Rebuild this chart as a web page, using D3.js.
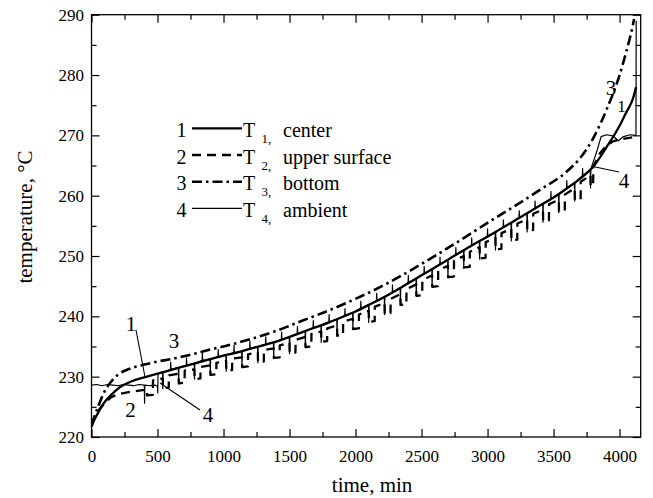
<!DOCTYPE html>
<html><head><meta charset="utf-8">
<script src="https://cdn.jsdelivr.net/npm/d3@7/dist/d3.min.js"></script>
<style>body{margin:0;background:#fff}svg{display:block}text{font-family:"Liberation Serif","Times New Roman",serif;fill:#000}</style>
</head><body>
<svg id="c" width="653" height="498"></svg>
<script>
// ---- data (time in min, temperature in °C) ----
const xMajorTicks = [0,500,1000,1500,2000,2500,3000,3500,4000];
const xMinorTicks = [250,750,1250,1750,2250,2750,3250,3750];
const yMajorTicks = [220,230,240,250,260,270,280,290];
const yMinorTicks = [225,235,245,255,265,275,285];
const seriesNames = ["center","upper surface","bottom","ambient"];

const T1 = [[0,221.7],[25,223.0],[50,224.0],[75,225.0],[100,225.8],[150,227.0],[200,228.0],[250,228.7],[300,229.2],[400,229.9],[500,230.5],[600,231.1],[700,231.7],[800,232.3],[900,232.9],[1000,233.5],[1100,234.0],[1200,234.6],[1300,235.2],[1400,235.8],[1500,236.6],[1600,237.4],[1700,238.2],[1800,239.0],[1900,239.9],[2000,240.8],[2100,241.9],[2200,243.0],[2300,244.2],[2400,245.5],[2500,246.8],[2600,248.1],[2700,249.4],[2800,250.7],[2900,252.0],[3000,253.2],[3100,254.5],[3200,255.8],[3300,257.1],[3400,258.4],[3500,259.7],[3600,261.2],[3700,262.8],[3800,264.8],[3900,268.0],[4000,271.6],[4050,273.8],[4100,276.0],[4125,278.0]];

const T2 = [[0,222.0],[30,223.5],[60,224.6],[100,225.6],[150,226.6],[200,227.1],[300,227.5],[400,227.8],
[420,227.9],[421,226.9],[465,227.0],[466,229.4],
[540,229.7],[541,228.1],[585,228.2],[586,230.2],
[660,230.5],[661,228.9],[705,229.0],[706,231.0],
[780,231.2],[781,229.6],[825,229.7],[826,231.6],
[900,231.9],[901,230.3],[945,230.4],[946,232.3],
[1020,232.6],[1021,231.0],[1065,231.1],[1066,233.0],
[1140,233.2],[1141,231.6],[1185,231.7],[1186,233.7],
[1260,234.0],[1261,232.4],[1305,232.5],[1306,234.4],
[1380,234.7],[1381,233.1],[1425,233.2],[1426,235.2],
[1500,235.6],[1501,233.9],[1545,234.0],[1546,236.1],
[1620,236.6],[1621,234.9],[1665,235.0],[1666,237.1],
[1740,237.5],[1741,235.8],[1785,235.9],[1786,238.0],
[1860,238.5],[1861,236.8],[1905,236.9],[1906,239.1],
[1980,239.6],[1981,237.9],[2025,238.0],[2026,240.3],
[2100,240.9],[2101,239.1],[2145,239.2],[2146,241.6],
[2220,242.2],[2221,240.4],[2265,240.5],[2266,242.9],
[2340,243.7],[2341,241.9],[2385,242.0],[2386,244.5],
[2460,245.3],[2461,243.4],[2505,243.5],[2506,246.0],
[2580,246.8],[2581,244.9],[2625,245.0],[2626,247.6],
[2700,248.4],[2701,246.5],[2745,246.6],[2746,249.2],
[2820,250.0],[2821,248.1],[2865,248.2],[2866,250.7],
[2940,251.5],[2941,249.6],[2985,249.7],[2986,252.3],
[3060,253.0],[3061,251.1],[3105,251.2],[3106,253.8],
[3180,254.5],[3181,252.6],[3225,252.7],[3226,255.4],
[3300,256.1],[3301,254.2],[3345,254.3],[3346,257.0],
[3420,257.7],[3421,255.8],[3465,255.9],[3466,258.6],
[3540,259.3],[3541,257.4],[3585,257.5],[3586,260.2],
[3660,261.2],[3661,259.3],[3705,259.4],[3706,262.3],
[3780,263.4],[3781,261.5],[3800,262.0],[3801,264.8],
[3850,267.0],[3900,268.3],[3950,269.0],[4000,269.3],[4050,269.5],[4100,269.7],[4120,270.0]];

const T3 = [[0,222.0],[50,225.0],[100,227.6],[150,229.2],[200,230.3],[300,231.4],[400,232.0],[500,232.5],[600,232.9],[700,233.4],[800,233.9],[900,234.5],[1000,235.0],[1200,236.2],[1400,237.6],[1600,239.3],[1800,241.0],[2000,242.9],[2200,245.0],[2400,247.4],[2600,250.0],[2800,252.7],[3000,255.5],[3200,258.2],[3400,261.0],[3600,264.0],[3700,266.2],[3800,269.5],[3900,274.2],[4000,280.0],[4050,283.8],[4100,288.2],[4110,289.3]];

const T4 = [[0,228.6],[40,228.7],[80,228.5],[120,228.7],[160,228.6],[200,228.5],[240,228.7],[280,228.6],[320,228.5],[360,228.7],[400,228.6],[402,225.6],[404,228.6],[440,228.5],[480,228.6],[500,228.4],[502,227.3],[504,230.5],
[538,230.7],[540,228.0],[542,230.7],[598,231.2],[600,232.4],[602,231.2],
[658,231.5],[660,228.8],[662,231.5],[718,231.9],[720,233.1],[722,231.9],
[778,232.2],[780,229.6],[782,232.2],[838,232.7],[840,233.9],[842,232.7],
[898,232.9],[900,230.2],[902,232.9],[958,233.3],[960,234.5],[962,233.3],
[1018,233.6],[1020,230.9],[1022,233.6],[1078,234.0],[1080,235.2],[1082,234.0],
[1138,234.2],[1140,231.5],[1142,234.2],[1198,234.7],[1200,235.9],[1202,234.7],
[1258,235.0],[1260,232.3],[1262,235.0],[1318,235.4],[1320,236.6],[1322,235.4],
[1378,235.7],[1380,233.0],[1382,235.7],[1438,236.2],[1440,237.4],[1442,236.2],
[1498,236.6],[1500,233.8],[1502,236.6],[1558,237.1],[1560,238.3],[1562,237.1],
[1618,237.6],[1620,234.8],[1622,237.6],[1678,238.1],[1680,239.3],[1682,238.1],
[1738,238.5],[1740,235.7],[1742,238.5],[1798,239.1],[1800,240.3],[1802,239.1],
[1858,239.5],[1860,236.7],[1862,239.5],[1918,240.1],[1920,241.3],[1922,240.1],
[1978,240.6],[1980,237.8],[1982,240.6],[2038,241.3],[2040,242.5],[2042,241.3],
[2098,241.9],[2100,239.0],[2102,241.9],[2158,242.6],[2160,243.8],[2162,242.6],
[2218,243.2],[2220,240.3],[2222,243.2],[2278,244.0],[2280,245.2],[2282,244.0],
[2338,244.7],[2340,241.8],[2342,244.7],[2398,245.6],[2400,246.8],[2402,245.6],
[2458,246.3],[2460,243.4],[2462,246.3],[2518,247.1],[2520,248.3],[2522,247.1],
[2578,247.8],[2580,244.9],[2582,247.8],[2638,248.6],[2640,249.8],[2642,248.6],
[2698,249.4],[2700,246.4],[2702,249.4],[2758,250.2],[2760,251.4],[2762,250.2],
[2818,251.0],[2820,248.0],[2822,251.0],[2878,251.8],[2880,253.0],[2882,251.8],
[2938,252.5],[2940,249.5],[2942,252.5],[2998,253.3],[3000,254.5],[3002,253.3],
[3058,254.0],[3060,251.0],[3062,254.0],[3118,254.8],[3120,256.0],[3122,254.8],
[3178,255.5],[3180,252.5],[3182,255.5],[3238,256.3],[3240,257.5],[3242,256.3],
[3298,257.1],[3300,254.0],[3302,257.1],[3358,257.9],[3360,259.1],[3362,257.9],
[3418,258.7],[3420,255.6],[3422,258.7],[3478,259.5],[3480,260.7],[3482,259.5],
[3538,260.3],[3540,257.2],[3542,260.3],[3598,261.3],[3600,262.5],[3602,261.3],
[3658,262.2],[3660,259.1],[3662,262.2],[3718,263.3],[3720,264.5],[3722,263.3],
[3778,264.4],[3780,261.3],[3782,264.4],
[3830,267.5],[3860,269.8],[3900,270.1],[3950,269.9],[3990,269.1],[4030,269.8],[4080,270.1],[4124,270.0],[4126,289.0]];

// ---- layout ----
const L = 91.5, R = 640.7, Tp = 14.7, B = 437;
const FONT = '"Liberation Serif","Times New Roman",serif';
const svg = d3.select("#c");
const x = d3.scaleLinear().domain([0, 4160]).range([L, R]);
const y = d3.scaleLinear().domain([220, 290]).range([B, Tp]);

function styleAxis(g){ g.select(".domain").remove(); g.selectAll("line").attr("stroke","#000").attr("stroke-width",1.2); g.selectAll("text").style("font-size","17px").style("font-family",FONT).attr("fill","#000"); }

svg.append("g").attr("transform",`translate(0,${B})`).call(d3.axisBottom(x).tickValues(xMajorTicks).tickSize(-8).tickPadding(12.5).tickFormat(d3.format("d"))).call(styleAxis);
svg.append("g").attr("transform",`translate(0,${B})`).call(d3.axisBottom(x).tickValues(xMinorTicks).tickSize(-5).tickFormat("")).call(styleAxis);
svg.append("g").attr("transform",`translate(0,${Tp})`).call(d3.axisTop(x).tickValues(xMajorTicks).tickSize(-8).tickFormat("")).call(styleAxis);
svg.append("g").attr("transform",`translate(0,${Tp})`).call(d3.axisTop(x).tickValues(xMinorTicks).tickSize(-5).tickFormat("")).call(styleAxis);
svg.append("g").attr("transform",`translate(${L},0)`).call(d3.axisLeft(y).tickValues(yMajorTicks).tickSize(-8).tickPadding(7.5).tickFormat(d3.format("d"))).call(styleAxis);
svg.append("g").attr("transform",`translate(${L},0)`).call(d3.axisLeft(y).tickValues(yMinorTicks).tickSize(-5).tickFormat("")).call(styleAxis);
svg.append("g").attr("transform",`translate(${R},0)`).call(d3.axisRight(y).tickValues(yMajorTicks).tickSize(-8).tickFormat("")).call(styleAxis);
svg.append("g").attr("transform",`translate(${R},0)`).call(d3.axisRight(y).tickValues(yMinorTicks).tickSize(-5).tickFormat("")).call(styleAxis);

svg.append("rect").attr("x",L).attr("y",Tp).attr("width",R-L).attr("height",B-Tp).attr("fill","none").attr("stroke","#000").attr("stroke-width",1.3);

// axis titles
svg.append("text").attr("x",(L+R)/2+6).attr("y",492).attr("text-anchor","middle").style("font-size","21px").text("time, min");
svg.append("text").attr("transform","translate(32,217) rotate(-90)").attr("text-anchor","middle").style("font-size","21px").text("temperature, \u00B0C");

// series
const styles = [
  {data:T1, w:2.3, dash:null, curve:d3.curveMonotoneX},
  {data:T2, w:2.3, dash:"9,6", curve:d3.curveLinear},
  {data:T3, w:2.6, dash:"10,4,2.5,4", curve:d3.curveMonotoneX},
  {data:T4, w:1.2, dash:null, curve:d3.curveLinear}
];
svg.append("clipPath").attr("id","pc").append("rect").attr("x",L).attr("y",Tp-1).attr("width",R-L).attr("height",B-Tp+1);
const plot = svg.append("g").attr("clip-path","url(#pc)");
styles.forEach(s=>{
  const line = d3.line().x(d=>x(d[0])).y(d=>y(d[1])).curve(s.curve);
  plot.append("path").datum(s.data).attr("d",line).attr("fill","none").attr("stroke","#000")
    .attr("stroke-width",s.w).attr("stroke-linejoin","round").attr("stroke-dasharray",s.dash);
});

// legend
const lg = svg.append("g");
styles.forEach((s,i)=>{
  const ly = 128.3 + i*26.7;
  lg.append("text").attr("x",181.5).attr("y",ly+8.7).attr("text-anchor","middle").style("font-size","20px").text(i+1);
  lg.append("line").attr("x1",192).attr("x2",242).attr("y1",ly).attr("y2",ly).attr("stroke","#000")
    .attr("stroke-width",s.w).attr("stroke-dasharray",s.dash);
  lg.append("text").attr("x",243).attr("y",ly+8.7).style("font-size","20px").text("T");
  lg.append("text").attr("x",261.5).attr("y",ly+14.5).style("font-size","13px").text((i+1)+",");
  lg.append("text").attr("x",283).attr("y",ly+8.7).style("font-size","20px").text(seriesNames[i]);
});

// annotations
const ann = [
  {t:"1", x:131, y:331}, {t:"3", x:174, y:348}, {t:"2", x:130.5, y:416.5}, {t:"4", x:208, y:421.5},
  {t:"3", x:611, y:95}, {t:"1", x:621.5, y:112, fs:17}, {t:"4", x:624, y:188}
];
ann.forEach(a=>svg.append("text").attr("x",a.x).attr("y",a.y).attr("text-anchor","middle").style("font-size",(a.fs||21)+"px").text(a.t));
const leaders = [[136,330,145,377],[160,383,200,410],[593,166.5,619,172]];
leaders.forEach(l=>svg.append("line").attr("x1",l[0]).attr("y1",l[1]).attr("x2",l[2]).attr("y2",l[3]).attr("stroke","#000").attr("stroke-width",1.1));
</script>
</body></html>
